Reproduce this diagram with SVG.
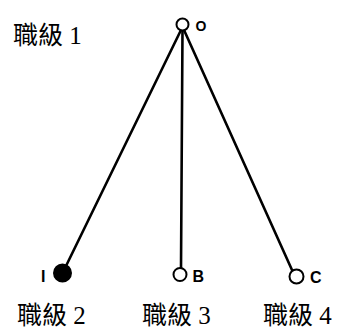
<svg xmlns="http://www.w3.org/2000/svg" width="350" height="331" viewBox="0 0 350 331">
  <style>
    .edge { stroke: #000; stroke-width: 2.6; fill: none; stroke-linecap: round; }
    .node { fill: #fff; stroke: #000; stroke-width: 2; }
    .filled { fill: #000; stroke: #000; stroke-width: 2; }
    .tag { font-family: "Liberation Sans", "DejaVu Sans", sans-serif; font-size: 16px; font-weight: bold; fill: #000; }
    .level { font-family: "Liberation Serif", "Noto Sans CJK TC", serif; font-size: 25px; fill: #000; }
  </style>
  <rect width="350" height="331" fill="#fff"/>
  <g id="connectors">
    <line class="edge" x1="181" y1="30" x2="66" y2="266"/>
    <line class="edge" x1="182.5" y1="30" x2="181" y2="268"/>
    <line class="edge" x1="184" y1="30" x2="292" y2="270"/>
  </g>
  <g id="node-o">
    <circle class="node" cx="182.5" cy="24.5" r="6"/>
    <text x="195.5" y="31" font-family="Liberation Sans, DejaVu Sans, sans-serif" font-size="14" font-weight="bold">O</text>
  </g>
  <g id="node-i">
    <circle class="filled" cx="62.5" cy="273" r="8.5"/>
    <text class="tag" x="41" y="282">I</text>
  </g>
  <g id="node-b">
    <circle class="node" cx="180" cy="274.5" r="6.5"/>
    <text class="tag" x="192.5" y="282">B</text>
  </g>
  <g id="node-c">
    <circle class="node" cx="296.5" cy="276.5" r="7"/>
    <text class="tag" x="310" y="283">C</text>
  </g>
  <g id="labels">
    <text class="level" x="13" y="44">職級 1</text>
    <text class="level" x="17" y="324">職級 2</text>
    <text class="level" x="142" y="324">職級 3</text>
    <text class="level" x="263" y="324">職級 4</text>
  </g>
</svg>
